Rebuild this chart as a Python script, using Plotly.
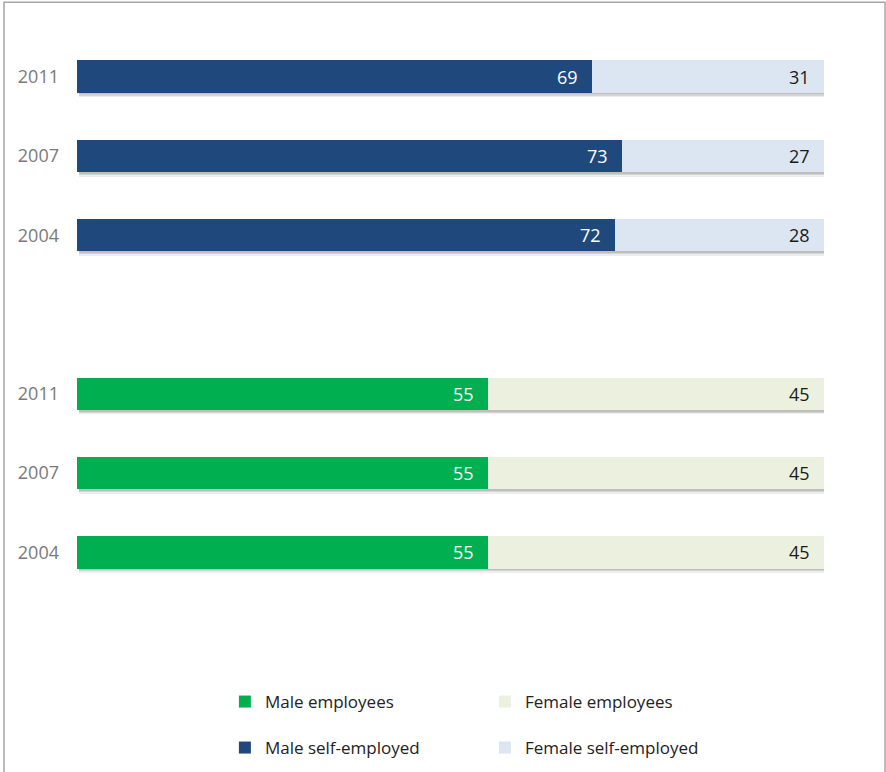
import plotly.graph_objects as go

# ---- data ----
years = ["2011", "2007", "2004"]
male_self = [69, 73, 72]
female_self = [31, 27, 28]
male_emp = [55, 55, 55]
female_emp = [45, 45, 45]

colors = {
    "Male employees": "#00b050",
    "Female employees": "#ebf1de",
    "Male self-employed": "#1f497d",
    "Female self-employed": "#dce6f2",
}

# slot positions (top group: self-employed, bottom group: employees)
pos_self = [i for i in range(len(years))]
pos_emp = [i + len(years) + 1 for i in range(len(years))]

BW = 0.41
FONT = "Open Sans"

fig = go.Figure()

# soft shadows under every bar
all_pos = pos_self + pos_emp
totals = [m + f for m, f in zip(male_self, female_self)] + [m + f for m, f in zip(male_emp, female_emp)]
for shift, alpha in [(0.055, 0.07), (0.035, 0.10), (0.02, 0.10)]:
    fig.add_trace(go.Bar(
        y=all_pos, x=[t + 0.1 for t in totals], base=0.25, orientation="h",
        width=BW, offset=-BW / 2 + shift,
        marker=dict(color=f"rgba(0,0,0,{alpha})", line=dict(width=0)),
        showlegend=False, hoverinfo="skip",
    ))

def add_pair(pos, male, female, mname, fname, legend):
    fig.add_trace(go.Bar(
        y=pos, x=male, base=[0] * len(male), orientation="h", width=BW,
        marker=dict(color=colors[mname], line=dict(width=0)),
        name=mname, legend=legend,
    ))
    fig.add_trace(go.Bar(
        y=pos, x=female, base=male, orientation="h", width=BW,
        marker=dict(color=colors[fname], line=dict(width=0)),
        name=fname, legend=legend,
    ))
    for p, m, f in zip(pos, male, female):
        fig.add_annotation(x=m, y=p, text=str(m), showarrow=False, xanchor="right",
                           xshift=-12, font=dict(family=FONT, size=18, color="white"))
        fig.add_annotation(x=m + f, y=p, text=str(f), showarrow=False, xanchor="right",
                           xshift=-12, font=dict(family=FONT, size=18, color="#1a1a1a"))

add_pair(pos_emp, male_emp, female_emp, "Male employees", "Female employees", "legend")
add_pair(pos_self, male_self, female_self, "Male self-employed", "Female self-employed", "legend2")

# outer frame (left, top, right)
fig.add_shape(type="rect", xref="paper", yref="paper",
              x0=-0.0977, x1=1.0817, y0=-0.36, y1=1.0627,
              line=dict(color="#a6a6a6", width=1.5), layer="below")

legend_common = dict(
    orientation="h", xanchor="left", yanchor="middle", yref="container",
    bgcolor="rgba(0,0,0,0)", font=dict(family=FONT, size=17, color="#222222"),
    entrywidth=215, entrywidthmode="pixels", itemclick=False,
)

fig.update_layout(
    width=886, height=772,
    margin=dict(l=77, r=62, t=37, b=180, autoexpand=False),
    paper_bgcolor="white", plot_bgcolor="white",
    barmode="overlay",
    bargap=0,
    xaxis=dict(range=[0, 100], visible=False, fixedrange=True),
    yaxis=dict(
        range=[6.5, -0.5], tickvals=pos_self + pos_emp, ticktext=years + years,
        showgrid=False, zeroline=False, showline=False, ticks="",
        tickfont=dict(family=FONT, size=18, color="#7a7a7a"),
        ticklabelstandoff=17, fixedrange=True,
    ),
    legend=dict(x=0.198, y=1 - 702 / 772, **legend_common),
    legend2=dict(x=0.198, y=1 - 748 / 772, **legend_common),
    showlegend=True,
)

fig.write_html("out.html", config={"displayModeBar": False},
               post_script="document.body.style.margin='0px';")
